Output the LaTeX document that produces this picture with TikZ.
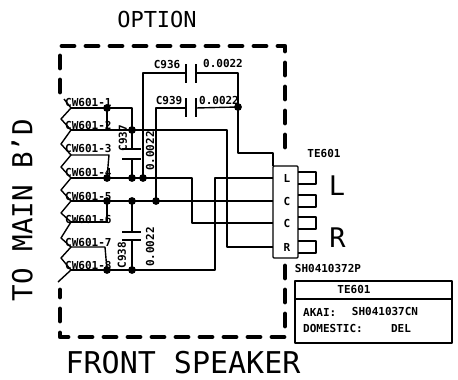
\documentclass[tikz,border=0pt]{standalone}
\usepackage{fontspec}
\setmainfont{DejaVu Sans Mono}
\tikzset{
	wire/.style={line width=1.4pt},
	plate/.style={line width=1.6pt},
	fence/.style={line width=4.8pt,dash pattern=on 12pt off 12pt,line cap=round,line join=round},
	small/.style={font=\fontsize{11}{12}\selectfont\bfseries,inner sep=0pt},
	big/.style={font=\fontsize{#1}{#1}\selectfont,inner sep=0pt}
}
\begin{document}
\begin{tikzpicture}[x=1pt,y=-1pt,line join=round]
	\useasboundingbox (0,0) rectangle (458,380);
	\def\xa{107} \def\xb{132} \def\xc{143} \def\xd{156} \def\xe{192} \def\xf{215} \def\xg{227} \def\xh{238} \def\xp{273}
	% header pins
	\foreach \n/\yy in {1/108,2/130,3/155,4/178,5/201,6/222,7/247,8/270}
		\coordinate (cw\n) at (71,\yy);
	\foreach \n/\yy/\t in {1/103/1,2/125/2,3/148/3,4/172/4,5/196/5,6/219/6,7/242/7,8/265/8}
		\node[small,anchor=west] (lbl\n) at (65,\yy) {CW601-\t};
	% zigzag
	\draw[wire] (64,99)--(cw1)--(61,119)--(cw2)--(61,144)--(cw3)--(61,167)--(cw4)--(61,190)--(cw5)--(61,213)--(cw6)--(61,238)--(cw7)--(61,258)--(cw8)--(58,282);
	% fence
	\draw[fence] (60,92)--(60,46)--(285,46)--(285,148);
	\draw[fence] (285,266)--(285,337)--(60,337)--(60,290);
	% connector
	\node[draw,wire,rounded corners=1pt,minimum width=25pt,minimum height=92pt,inner sep=0pt] (te) at (285.5,212) {};
	\foreach \n/\yy/\t in {a/178/L,b/201/C,c/223/C,d/247/R} {
		\coordinate (pin\n) at (\xp,\yy);
		\draw[wire] (298,\yy-6)--(316,\yy-6)--(316,\yy+6)--(298,\yy+6);
		\node[small] (let\n) at (287,\yy) {\t};
	}
	% junctions
	\coordinate (j1) at (\xa,108);
	\coordinate (j2) at (\xb,130);
	\coordinate (j3) at (\xa,178);
	\coordinate (j4) at (\xb,178);
	\coordinate (j5) at (\xc,178);
	\coordinate (j6) at (\xa,201);
	\coordinate (j7) at (\xb,201);
	\coordinate (j8) at (\xd,201);
	\coordinate (j9) at (\xa,270);
	\coordinate (j10) at (\xb,270);
	\coordinate (j11) at (\xh,107);
	\foreach \j in {1,...,11}
		\fill (j\j) circle (3.9pt);
	% wires
	\draw[wire] (cw1)--(j1)--(\xb,108)--(j2);
	\draw[wire] (j1)--(\xa,130);
	\draw[wire] (cw2)--(j2)--(\xg,130)--(\xg,247)--(pind);
	\draw[wire] (cw3)--(\xa+2,155)--(j3);
	\draw[wire] (cw4)--(j3)--(j4)--(j5)--(\xe,178)--(\xe,223)--(pinc);
	\draw[wire] (cw5)--(j6)--(j7)--(j8)--(pinb);
	\draw[wire] (j6)--(\xa,222)--(cw6);
	\draw[wire] (cw7)--(\xa-2,247)--(j9);
	\draw[wire] (cw8)--(j9)--(j10)--(\xf,270)--(\xf,178)--(pina);
	\draw[wire] (\xc,178)--(\xc,73)--(186,73);
	\draw[wire] (196,73)--(\xh,73)--(j11)--(\xh,153)--(\xp,153)--(\xp,166);
	\draw[wire] (j8)--(\xd,108)--(186,108);
	\draw[wire] (196,108)--(j11);
	% capacitors
	\draw[plate] (186,64)--(186,83) (196,64)--(196,83);
	\draw[plate] (186,98)--(186,117) (196,98)--(196,117);
	\draw[wire] (j2)--(\xb,149) (\xb,159)--(j4);
	\draw[plate] (122,149)--(141,149) (122,159)--(141,159);
	\draw[wire] (j7)--(\xb,232) (\xb,240)--(j10);
	\draw[plate] (122,232)--(141,232) (122,240)--(141,240);
	% values
	\node[small] (c936) at (167,65) {C936};
	\node[small] (v936) at (223,63) {0.0022};
	\node[small] (c939) at (169,101) {C939};
	\node[small] (v939) at (219,100) {0.0022};
	\node[small,rotate=90] (c937) at (123,138) {C937};
	\node[small,rotate=90] (v937) at (150,151) {0.0022};
	\node[small,rotate=90] (c938) at (122,255) {C938};
	\node[small,rotate=90] (v938) at (150,247) {0.0022};
	% titles
	\node[big=22] (option) at (157,19) {OPTION};
	\node[big=30] (front) at (183,363) {FRONT SPEAKER};
	\node[big=27.5,rotate=90] (main) at (22,210) {TO MAIN B'D};
	\node[big=27] (bigl) at (337,186) {L};
	\node[big=27] (bigr) at (337.5,238) {R};
	\node[small] (te1) at (324,153) {TE601};
	\node[small] (part) at (328,268) {SH0410372P};
	% table
	\node[draw,wire,minimum width=157pt,minimum height=62pt,inner sep=0pt] (tbl) at (373.5,312) {};
	\draw[wire] (295,299)--(452,299);
	\node[small] (tt) at (354,289) {TE601};
	\node[small,anchor=west] (akai) at (303,312) {AKAI:};
	\node[small] (akv) at (385,311) {SH041037CN};
	\node[small,anchor=west] (dom) at (303,328) {DOMESTIC:};
	\node[small] (del) at (401,328) {DEL};
\end{tikzpicture}
\end{document}
